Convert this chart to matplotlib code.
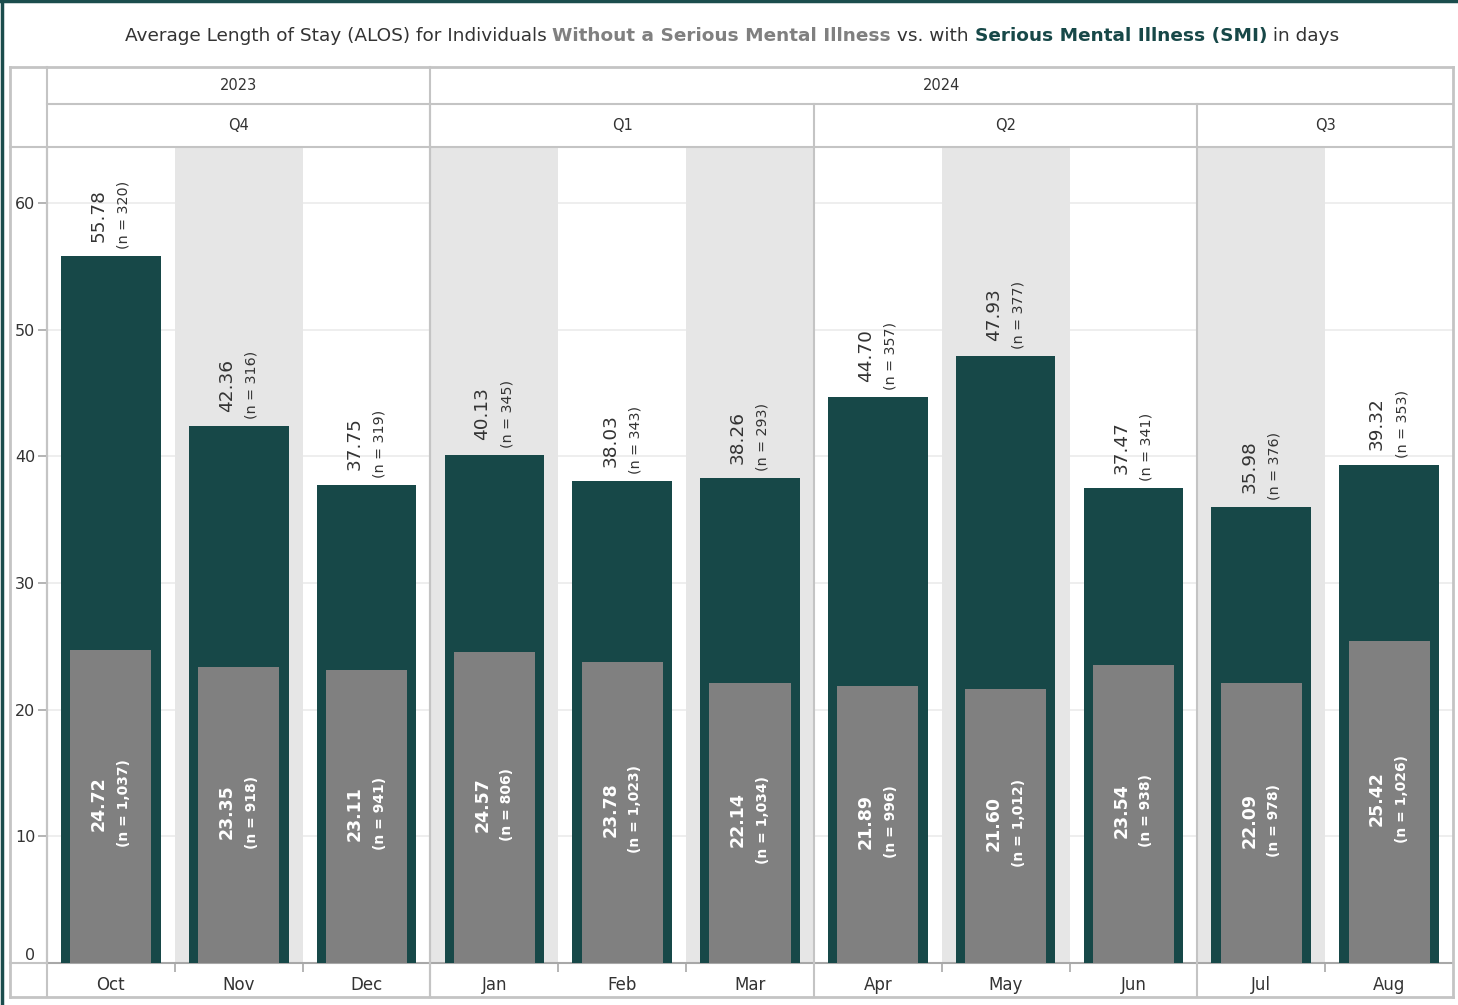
import numpy as np
import matplotlib
matplotlib.use("Agg")
import matplotlib.pyplot as plt
from matplotlib.lines import Line2D
from matplotlib.transforms import offset_copy, blended_transform_factory

plt.rcParams['font.family'] = ['DejaVu Sans']

months = ['Oct', 'Nov', 'Dec', 'Jan', 'Feb', 'Mar', 'Apr', 'May', 'Jun', 'Jul', 'Aug']
quarters = ['Q4', 'Q4', 'Q4', 'Q1', 'Q1', 'Q1', 'Q2', 'Q2', 'Q2', 'Q3', 'Q3']
years = ['2023', '2023', '2023', '2024', '2024', '2024', '2024', '2024', '2024', '2024', '2024']
smi_alos = [55.78, 42.36, 37.75, 40.13, 38.03, 38.26, 44.70, 47.93, 37.47, 35.98, 39.32]
smi_n = [320, 316, 319, 345, 343, 293, 357, 377, 341, 376, 353]
other_alos = [24.72, 23.35, 23.11, 24.57, 23.78, 22.14, 21.89, 21.60, 23.54, 22.09, 25.42]
other_n = [1037, 918, 941, 806, 1023, 1034, 996, 1012, 938, 978, 1026]

TEAL = '#174848'
GREY = '#808080'
SHADE = '#e6e6e6'
LINE = '#c4c4c4'
AXIS = '#a8a8a8'
TXT = '#333333'

W, H = 1458, 1005
fig = plt.figure(figsize=(W / 100, H / 100), dpi=100)


def fx(x):
    return x / W


def fy(y):
    return 1 - y / H


ax = fig.add_axes([fx(47), fy(963), (1453 - 47) / W, (963 - 147) / H])
x = np.arange(len(months))
ax.set_xlim(-0.5, len(months) - 0.5)
ax.set_ylim(0, 64.42)

# banding
for i in x:
    if i % 2 == 1:
        ax.axvspan(i - 0.5, i + 0.5, color=SHADE, lw=0, zorder=1)

ax.set_axisbelow(True)
ax.yaxis.grid(True, color='#ededed', lw=1.3)
ax.set_yticks([0, 10, 20, 30, 40, 50, 60])

ax.bar(x, smi_alos, width=0.78, color=TEAL, zorder=3)
ax.bar(x, other_alos, width=0.635, color=GREY, zorder=4)

renderer = fig.canvas.get_renderer()
for i in x:
    # SMI label above the bar
    t_n = ax.text(i, smi_alos[i], f'(n = {smi_n[i]:,})', rotation=90, ha='center', va='bottom',
                  fontsize=10.3, color=TXT, zorder=5,
                  transform=offset_copy(ax.transData, fig, x=13, y=7, units='dots'))
    h = t_n.get_window_extent(renderer).height
    ax.text(i, smi_alos[i], f'{smi_alos[i]:.2f}', rotation=90, ha='center', va='center',
            fontsize=13.3, color=TXT, zorder=5,
            transform=offset_copy(ax.transData, fig, x=-12, y=7 + h / 2, units='dots'))
    # non-SMI label inside the grey bar
    mid = other_alos[i] / 2
    ax.text(i, mid, f'{other_alos[i]:.2f}', rotation=90, ha='center', va='center',
            fontsize=12.5, fontweight='bold', color='white', zorder=5,
            transform=offset_copy(ax.transData, fig, x=-12, y=3, units='dots'))
    ax.text(i, mid, f'(n = {other_n[i]:,})', rotation=90, ha='center', va='center',
            fontsize=10, fontweight='bold', color='white', zorder=5,
            transform=offset_copy(ax.transData, fig, x=13, y=3, units='dots'))

for s in ['top', 'right']:
    ax.spines[s].set_visible(False)
for s in ['left', 'bottom']:
    ax.spines[s].set_color(AXIS)
    ax.spines[s].set_linewidth(1.5)

ax.set_xticks(x)
ax.set_xticklabels(months)
ax.set_xticks(np.arange(len(months) - 1) + 0.5, minor=True)
ax.tick_params(axis='x', which='major', length=0, pad=9, labelsize=12, labelcolor=TXT)
ax.tick_params(axis='x', which='minor', length=6.5, width=1.2, color=AXIS)
ax.tick_params(axis='y', length=6.5, width=1.2, color=AXIS, pad=2, labelsize=11.5, labelcolor=TXT)
ax.get_yticklabels()[0].set_verticalalignment('bottom')

# table lines around the chart
def hline(y, x0, x1, lw=1.5, color=LINE):
    fig.add_artist(Line2D([fx(x0), fx(x1)], [fy(y), fy(y)], color=color, lw=lw, transform=fig.transFigure))


def vline(xp, y0, y1, lw=1.5, color=LINE):
    fig.add_artist(Line2D([fx(xp), fx(xp)], [fy(y0), fy(y1)], color=color, lw=lw, transform=fig.transFigure))


hline(67, 10, 1453, lw=2)
hline(997, 10, 1453, lw=2)
vline(10, 67, 997, lw=2)
vline(1453, 67, 997, lw=2)
vline(47, 67, 997)
hline(104, 47, 1453)
hline(147, 10, 1453)
hline(963, 10, 47)

# teal frame
fig.add_artist(Line2D([0, 1], [fy(1.5), fy(1.5)], color='#1b4d4d', lw=2.5, transform=fig.transFigure))
fig.add_artist(Line2D([fx(1.5), fx(1.5)], [0, 1], color='#1b4d4d', lw=2.5, transform=fig.transFigure))

# group headers and separators
bt = blended_transform_factory(ax.transData, fig.transFigure)


def groups(labels):
    out = []
    start = 0
    for i in range(1, len(labels) + 1):
        if i == len(labels) or labels[i] != labels[start]:
            out.append((labels[start], start, i - 1))
            start = i
    return out


for lab, a, b in groups(years):
    fig.text((a + b) / 2, fy(85), lab, transform=bt, ha='center', va='center', fontsize=10.5, color=TXT)
    if a > 0:
        fig.add_artist(Line2D([a - 0.5, a - 0.5], [fy(67), fy(997)], color=LINE, lw=1.5, transform=bt))
for lab, a, b in groups(quarters):
    fig.text((a + b) / 2, fy(126), lab, transform=bt, ha='center', va='center', fontsize=10.5, color=TXT)
    if a > 0:
        fig.add_artist(Line2D([a - 0.5, a - 0.5], [fy(104), fy(997)], color=LINE, lw=1.5, transform=bt, zorder=2))

# title in coloured pieces
pieces = [('Average Length of Stay (ALOS) for Individuals ', TXT, 'normal'),
          ('Without a Serious Mental Illness', GREY, 'bold'),
          (' vs. with ', TXT, 'normal'),
          ('Serious Mental Illness (SMI)', TEAL, 'bold'),
          (' in days', TXT, 'normal')]
size = 14
texts = [fig.text(0, fy(36), p, color=c, fontweight=wt, fontsize=size, va='center') for p, c, wt in pieces]
total = sum(t.get_window_extent(renderer).width for t in texts)
size = size * 1216 / total
for t in texts:
    t.set_fontsize(size)
widths = [t.get_window_extent(renderer).width for t in texts]
xpos = 732 - sum(widths) / 2
for t, w in zip(texts, widths):
    t.set_x(fx(xpos))
    xpos += w

fig.savefig('out.png', dpi=100)
